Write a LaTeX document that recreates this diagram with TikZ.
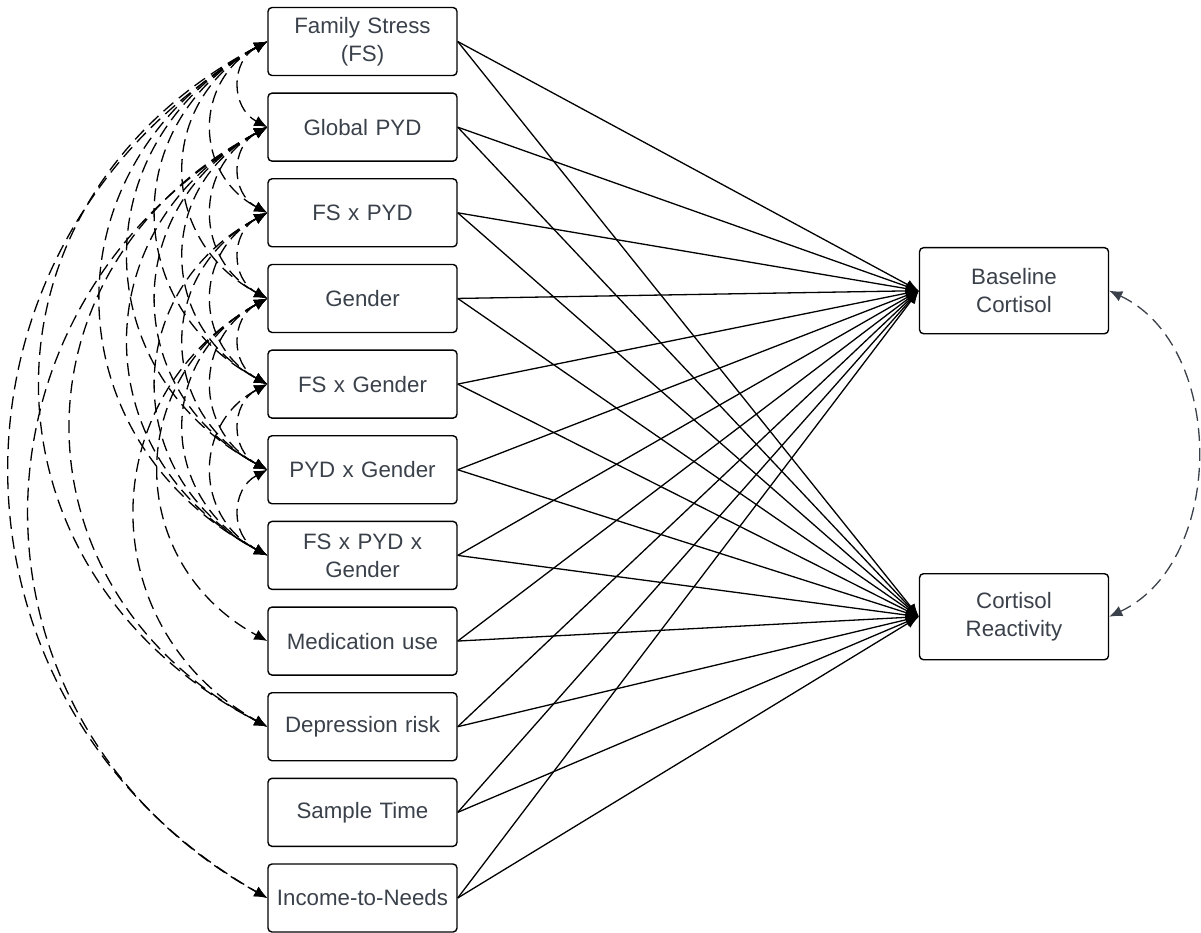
\documentclass[tikz,border=0pt]{standalone}
\usepackage{fontspec}
\setmainfont{Liberation Sans}
\usetikzlibrary{arrows.meta}
\definecolor{luctext}{HTML}{3A414A}
\definecolor{lucline}{HTML}{3A414A}
\begin{document}
\begin{tikzpicture}[x=1pt,y=-1pt,
  lbox/.style={draw=black, line width=1.4pt, rounded corners=4pt, minimum width=189pt, minimum height=68pt,
    inner sep=0pt, text width=187pt, align=center, text=luctext, font=\fontsize{22.3}{28}\selectfont},
  rbox/.style={lbox, minimum height=86pt},
  path/.style={line width=1.3pt, draw=black, -{Latex[length=13pt,width=10pt]}},
  cov/.style={line width=1.3pt, draw=black, dash pattern=on 13pt off 7pt,
    {Latex[length=13pt,width=11pt]}-{Latex[length=13pt,width=11pt]}},
  covg/.style={cov, draw=lucline, {Latex[length=13pt,width=11pt,fill=lucline]}-{Latex[length=13pt,width=11pt,fill=lucline]}}
]
\useasboundingbox (0,0) rectangle (1201,933);
\node[lbox] (n1) at (362.5,41.5) {Family Stress\\(FS)};
\node[lbox] (n2) at (362.5,127.15) {Global PYD};
\node[lbox] (n3) at (362.5,212.8) {FS x PYD};
\node[lbox] (n4) at (362.5,298.45) {Gender};
\node[lbox] (n5) at (362.5,384.1) {FS x Gender};
\node[lbox] (n6) at (362.5,469.75) {PYD x Gender};
\node[lbox] (n7) at (362.5,555.4) {FS x PYD x\\Gender};
\node[lbox] (n8) at (362.5,641.05) {Medication use};
\node[lbox] (n9) at (362.5,726.7) {Depression risk};
\node[lbox] (n10) at (362.5,812.35) {Sample Time};
\node[lbox] (n11) at (362.5,898) {Income-to-Needs};
\node[rbox] (bc) at (1014,290.7) {Baseline\\Cortisol};
\node[rbox] (cr) at (1014,616.7) {Cortisol\\Reactivity};
% regression paths
\foreach \i in {1,...,11}{
  \draw[path] (n\i.east) -- (bc.west);
  \draw[path] (n\i.east) -- (cr.west);
}
% covariances
\foreach \i/\j/\a in {1/2/0.43,1/3/0.43,1/4/0.43,1/5/0.43,1/6/0.43,1/7/0.43,
  2/3/0.43,2/4/0.43,2/5/0.43,2/6/0.43,2/7/0.43,
  3/4/0.43,3/5/0.43,3/6/0.43,3/7/0.43,
  4/5/0.43,4/6/0.43,4/7/0.43,
  5/6/0.43,5/7/0.43,
  6/7/0.43,
  4/8/0.42,1/9/0.44,2/9/0.435,4/9/0.41,1/11/0.40,2/11/0.41}{
  \pgfmathsetmacro\s{(\j-\i)*85.65}
  \draw[cov] (n\i.west) .. controls +({-\a*\s},{0.23*\s}) and +({-\a*\s},{-0.23*\s}) .. (n\j.west);
}
\draw[covg] (bc.east) .. controls +(117,55) and +(117,-55) .. (cr.east);
\end{tikzpicture}
\end{document}
